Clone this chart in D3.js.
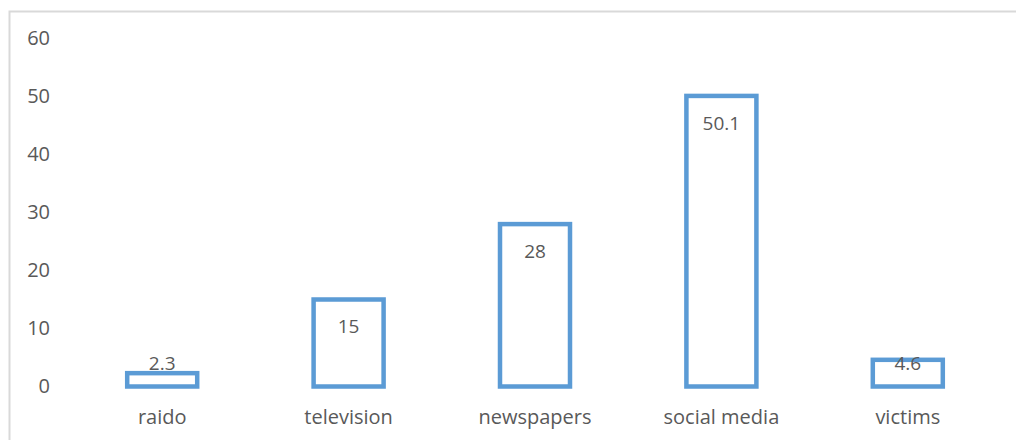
<!DOCTYPE html>
<html>
<head>
<meta charset="utf-8">
<script src="https://cdn.jsdelivr.net/npm/d3@7/dist/d3.min.js"></script>
<style>
  html, body { margin: 0; padding: 0; background: #fff; }
  svg { display: block; }
  text { font-family: "Open Sans", "Noto Sans", sans-serif; fill: #595959; }
</style>
</head>
<body>
<svg id="chart" width="1016" height="440"></svg>
<script>
// Chart data
const categories = ["raido", "television", "newspapers", "social media", "victims"];
const values = [2.3, 15, 28, 50.1, 4.6];
const yTicks = [0, 10, 20, 30, 40, 50, 60];

const svg = d3.select("#chart");
const W = 1016, H = 440;
const font = "'Open Sans', 'Noto Sans', sans-serif";

// Chart area frame
svg.append("rect")
  .attr("x", 9.5).attr("y", 11.5)
  .attr("width", W + 10).attr("height", H + 10)
  .attr("fill", "none")
  .attr("stroke", "#d9d9d9")
  .attr("stroke-width", 2);

const x = d3.scaleBand()
  .domain(categories)
  .range([69, 1001])
  .paddingInner(0.62)
  .paddingOuter(0.31);

const y = d3.scaleLinear()
  .domain([0, 60])
  .range([386.5, 38.5]);

// Value axis labels (no line, no ticks)
const yAxis = d3.axisLeft(y).tickValues(yTicks).tickSize(0).tickPadding(0);
const gy = svg.append("g").attr("transform", "translate(50,0)").call(yAxis);
gy.select(".domain").remove();
gy.selectAll("text")
  .attr("font-size", 20)
  .attr("font-family", font)
  .attr("fill", "#595959");

// Category axis labels
const xAxis = d3.axisBottom(x).tickSize(0).tickPadding(0);
const gx = svg.append("g").attr("transform", "translate(0,410)").call(xAxis);
gx.select(".domain").remove();
gx.selectAll("text")
  .attr("font-size", 20)
  .attr("font-family", font)
  .attr("fill", "#595959");

// Outlined bars
const bw = 70;
svg.append("g").selectAll("rect")
  .data(values)
  .join("rect")
  .attr("x", (d, i) => x(categories[i]) + x.bandwidth() / 2 - bw / 2)
  .attr("y", d => y(d))
  .attr("width", bw)
  .attr("height", d => y(0) - y(d))
  .attr("fill", "#ffffff")
  .attr("stroke", "#5b9bd5")
  .attr("stroke-width", 4.5);

// Value labels at the inside end of each bar
svg.append("g").selectAll("text")
  .data(values)
  .join("text")
  .attr("x", (d, i) => x(categories[i]) + x.bandwidth() / 2)
  .attr("y", d => Math.min(y(d) + 27, 363))
  .attr("dy", "0.35em")
  .attr("text-anchor", "middle")
  .attr("font-size", 19)
  .attr("font-family", font)
  .text(d => d);
</script>
</body>
</html>
